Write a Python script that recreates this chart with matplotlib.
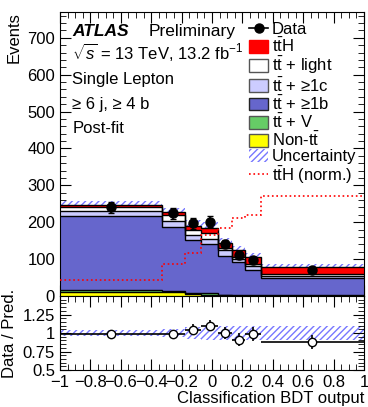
import numpy as np
import matplotlib
matplotlib.use("Agg")
import matplotlib.pyplot as plt
from matplotlib.patches import Patch
from matplotlib.lines import Line2D
from matplotlib.ticker import MultipleLocator, FuncFormatter, NullFormatter

plt.rcParams['font.family'] = ['Liberation Sans', 'DejaVu Sans']
plt.rcParams['mathtext.fontset'] = 'custom'
plt.rcParams['mathtext.rm'] = 'Liberation Sans'
plt.rcParams['mathtext.it'] = 'Liberation Sans:italic'
plt.rcParams['mathtext.bf'] = 'Liberation Sans:bold'
plt.rcParams['font.size'] = 12

# binning of the BDT output
edges = [-1.0, -0.33, -0.18, -0.07, 0.04, 0.13, 0.22, 0.32, 1.0]

# post-fit stack (events per bin)
non_tt = [12, 11, 6, 4, 1.5, 1, 1, 1]
tt_v = [3, 3, 3, 3, 2, 2, 1.5, 2]
tt_1b = [202, 174, 143, 134, 104.5, 88, 69, 47]
tt_1c = [14, 16, 13, 13, 16, 9, 9, 5]
tt_light = [10, 16, 14, 16, 6, 7, 7, 5]
tth = [5, 7, 10, 14, 15, 17.5, 18.5, 20]
rel_unc = [0.045, 0.05, 0.085, 0.09, 0.09, 0.09, 0.09, 0.09]

# data
data = [241, 224, 197, 202, 141, 111, 97, 71]
data_err = [15, 15, 14, 14, 12, 11, 10, 8]

# ttH shape, normalised to the background
tth_norm = [44, 86, 117, 166, 184, 212, 219, 270]

# ratio panel
ratio = [0.985, 0.985, 1.045, 1.10, 1.0, 0.91, 0.985, 0.877]
ratio_err = [0.05, 0.06, 0.07, 0.07, 0.08, 0.09, 0.09, 0.09]

edges = np.array(edges)
centers = 0.5 * (edges[1:] + edges[:-1])
halfw = 0.5 * np.diff(edges)

fig = plt.figure(figsize=(3.68, 4.07), dpi=100)
ax = fig.add_axes([0.163, 0.2727, 0.826, 0.6978])
rax = fig.add_axes([0.163, 0.0909, 0.826, 0.1818])

comps = [(non_tt, '#ffff00'), (tt_v, '#66cc66'), (tt_1b, '#6666cc'),
         (tt_1c, '#ccccff'), (tt_light, '#ffffff'), (tth, '#ff0000')]
bottom = np.zeros(len(centers))
for vals, col in comps:
    vals = np.array(vals, dtype=float)
    ax.stairs(bottom + vals, edges, baseline=bottom, fill=True,
              facecolor=col, edgecolor='none', zorder=2)
    ax.stairs(bottom + vals, edges, baseline=None, color='black',
              lw=1.0, zorder=3)
    bottom = bottom + vals
total = bottom

unc = total * np.array(rel_unc)
ax.stairs(total + unc, edges, baseline=total - unc, fill=True,
          facecolor='none', edgecolor='#7777ff', hatch='/////', lw=0, zorder=1)

ax.stairs(tth_norm, edges, baseline=None, color='red', ls=':', lw=1.2, zorder=4)

ax.errorbar(centers, data, yerr=data_err, fmt='o', color='black',
            markersize=6.5, capsize=2, elinewidth=1.2, zorder=5)

ax.set_ylim(0, 770)
ax.set_ylabel('Events', loc='top')
ax.yaxis.set_major_locator(MultipleLocator(100))
ax.yaxis.set_minor_locator(MultipleLocator(20))
ax.xaxis.set_major_formatter(NullFormatter())

for a in (ax, rax):
    a.set_xlim(-1, 1)
    a.xaxis.set_major_locator(MultipleLocator(0.2))
    a.xaxis.set_minor_locator(MultipleLocator(0.05))
    a.tick_params(which='both', direction='in', top=True, right=True)
    a.tick_params(which='major', length=8)
    a.tick_params(which='minor', length=4)

# ratio
rax.fill_between(edges, np.append(1 - np.array(rel_unc), 1 - rel_unc[-1]),
                 np.append(1 + np.array(rel_unc), 1 + rel_unc[-1]), step='post',
                 facecolor='none', edgecolor='#7777ff', hatch='/////', lw=0)
rax.errorbar(centers, ratio, xerr=halfw, yerr=ratio_err, fmt='o', color='black',
             mfc='white', mec='black', markersize=6, elinewidth=1.2)
rax.set_ylim(0.5, 1.5)
rax.set_yticks([0.5, 0.75, 1, 1.25])
rax.yaxis.set_minor_locator(MultipleLocator(0.05))
rax.yaxis.set_major_formatter(FuncFormatter(lambda v, p: '%g' % v))
rax.xaxis.set_major_formatter(FuncFormatter(lambda v, p: ('%g' % round(v, 2)).replace('-', '\u2212')))
rax.set_ylabel('Data / Pred.')
rax.set_xlabel('Classification BDT output', loc='right', labelpad=1)

fig.align_ylabels([ax, rax])

# labels
ax.text(0.04, 0.915, 'ATLAS', transform=ax.transAxes, fontweight='bold',
        fontstyle='italic', fontsize=12.5)
ax.text(0.29, 0.915, 'Preliminary', transform=ax.transAxes, fontsize=12.5)
ax.text(0.04, 0.835, r'$\sqrt{s}$ = 13 TeV, 13.2 fb$^{-1}$', transform=ax.transAxes)
ax.text(0.04, 0.745, 'Single Lepton', transform=ax.transAxes)
ax.text(0.04, 0.66, '\u2265 6 j, \u2265 4 b', transform=ax.transAxes)
ax.text(0.04, 0.575, 'Post-fit', transform=ax.transAxes)

tt = r'$\mathrm{t\bar{t}}$'
handles = [
    Line2D([], [], color='black', marker='o', markersize=6.5, lw=1.2),
    Patch(facecolor='#ff0000', edgecolor='#ff0000'),
    Patch(facecolor='#ffffff', edgecolor='#555555'),
    Patch(facecolor='#ccccff', edgecolor='#555555'),
    Patch(facecolor='#6666cc', edgecolor='#222222'),
    Patch(facecolor='#66cc66', edgecolor='#555555'),
    Patch(facecolor='#ffff00', edgecolor='#555555'),
    Patch(facecolor='none', edgecolor='#7777ff', hatch='/////', lw=0),
    Line2D([], [], color='red', ls=':', lw=1.2),
]
labels = ['Data', tt + 'H', tt + ' + light', tt + ' + \u22651c', tt + ' + \u22651b',
          tt + ' + V', 'Non-' + tt, 'Uncertainty', tt + 'H (norm.)']
ax.legend(handles, labels, loc='upper left', bbox_to_anchor=(0.623, 0.965),
          frameon=False, handlelength=1.1, handleheight=0.8, handletextpad=0.25,
          labelspacing=0.0, borderpad=0, borderaxespad=0)

fig.savefig('out.png', dpi=100)
